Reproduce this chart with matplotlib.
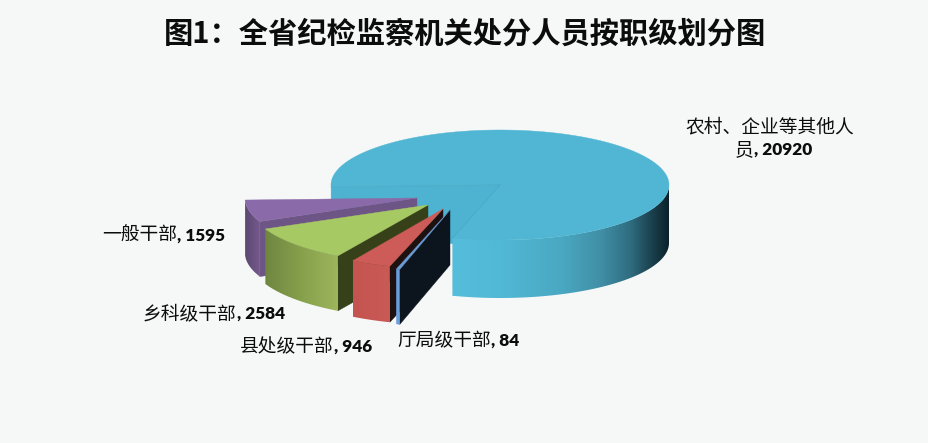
import numpy as np
import matplotlib
matplotlib.use('Agg')
import matplotlib.pyplot as plt
from matplotlib.patches import Polygon
from matplotlib.colors import LinearSegmentedColormap

title = '图1：全省纪检监察机关处分人员按职级划分图'
categories = ['农村、企业等其他人员', '厅局级干部', '县处级干部', '乡科级干部', '一般干部']
values = [20920, 84, 946, 2584, 1595]

# look of each slice, same order as the data: apex, radii, wall height
apex_x = [500, 450, 443, 428, 417]
apex_y = [185, 210, 209, 205, 198]
radius_x = [169, 180, 178, 178, 172]
radius_y = [55, 62, 60, 59, 58]
depth = [58, 55, 56, 55, 55]
top_colors = ['#50b6d4', '#6c9bd6', '#cd5b57', '#a6c964', '#8a6aa8']
wall_colors = ['#4eb3d0', '#0c141d', '#1e1210', '#374119', '#6d5585']
outer_colors = [
    [(0, '#55bedc'), (0.22, '#51b8d5'), (0.5, '#4aa8c2'), (0.68, '#418fa6'),
     (0.82, '#2f6c80'), (0.91, '#1c4451'), (1, '#0b2029')],
    ['#6b9fdc', '#6b9fdc'],
    ['#c35450', '#c95a56'],
    ['#6f8640', '#86a04c', '#9db65c'],
    ['#5a4970', '#76598f'],
]
start_angle = 268  # clockwise from 12 o'clock

BOLD_NUM = 'Lato'
CJK = 'Noto Sans CJK SC'
BG = '#f6f8f8'
TEXT = '#0c0c0c'

fig = plt.figure(figsize=(9.29, 4.43), dpi=100, facecolor=BG)
ax = fig.add_axes([0, 0, 1, 1])
ax.set_xlim(0, 929)
ax.set_ylim(443, 0)
ax.axis('off')


def ring(t, i):
    t = np.radians(t)
    return apex_x[i] + radius_x[i] * np.sin(t), apex_y[i] - radius_y[i] * np.cos(t)


def draw_slice(i, t0, t1, z):
    cx, cy, d = apex_x[i], apex_y[i], depth[i]

    # flat cut walls
    edges = [t0, t1] if i == 0 else [t0]
    for t in edges[::-1]:
        x, y = ring(t, i)
        ax.add_patch(Polygon([(cx, cy), (x, y), (x, y + d), (cx, cy + d)],
                             fc=wall_colors[i], ec=wall_colors[i], lw=0.3, zorder=z))

    # outer wall, only the part facing the viewer
    lo, hi = max(t0, 90), min(t1, 270)
    if i == 0:
        lo, hi = 450, t1
    arc = np.linspace(lo, hi, 120)
    x, y = ring(arc, i)
    pts = np.r_[np.c_[x, y], np.c_[x, y + d][::-1]]
    clip = Polygon(pts, fc='none', ec='none', zorder=z)
    ax.add_patch(clip)
    cmap = LinearSegmentedColormap.from_list('w%d' % i, outer_colors[i])
    im = ax.imshow(np.linspace(0, 1, 256).reshape(1, -1), cmap=cmap, aspect='auto',
                   extent=(x.min(), x.max(), y.max() + d, y.min()), zorder=z + 0.1)
    im.set_clip_path(clip)

    # top face
    arc = np.linspace(t0, t1, 240)
    x, y = ring(arc, i)
    top = np.r_[[(cx, cy)], np.c_[x, y]]
    ax.add_patch(Polygon(top, fc=top_colors[i], ec=top_colors[i], lw=0.3, zorder=z + 0.2))
    if i == 0:
        for t in (t0, t1):
            ex, ey = ring(t, i)
            ax.plot([cx, ex], [cy, ey], color='#46a0b8', lw=0.5, alpha=0.6, zorder=z + 0.3)


total = sum(values)
sweep = [v / total * 360 for v in values]

# main slice runs clockwise from start_angle, the others follow it
t = start_angle
bounds = []
for s in sweep:
    bounds.append((t, t + s))
    t += s
bounds = [bounds[0]] + [(a - 360, b - 360) for a, b in bounds[1:]]

# back to front: main, then 一般, 乡科, 县处, 厅局
for z, i in enumerate([0, 4, 3, 2, 1]):
    draw_slice(i, bounds[i][0], bounds[i][1], z + 1)

ax.set_xlim(0, 929)
ax.set_ylim(443, 0)

ax.text(465, 33.5, title, ha='center', va='center', fontsize=21.1, fontweight='bold',
        family=[CJK, 'DejaVu Sans'], color=TEXT, zorder=20)

renderer = fig.canvas.get_renderer()


def label(x, y, cjk, num):
    # CJK part with a bold number behind it
    t = ax.text(x, y, cjk, ha='left', va='baseline', fontsize=13.5, fontweight='medium',
                family=[CJK, 'DejaVu Sans'], color=TEXT, zorder=20)
    box = t.get_window_extent(renderer)
    ax.text(box.x1, y, num, ha='left', va='baseline', fontsize=12.4, fontweight='heavy',
            family=[BOLD_NUM, CJK], color=TEXT, zorder=20)


label(102, 241, categories[4], ', %d' % values[4])
label(143, 319, categories[3], ', %d' % values[3])
label(240, 352, categories[2], ', %d' % values[2])
label(397, 346, categories[1], ', %d' % values[1])
ax.text(685, 132, categories[0][:-1], ha='left', va='baseline', fontsize=13.5, fontweight='medium',
        family=[CJK, 'DejaVu Sans'], color=TEXT, zorder=20)
label(735, 155, categories[0][-1], ', %d' % values[0])

fig.savefig('out.png', dpi=100, facecolor=BG)
